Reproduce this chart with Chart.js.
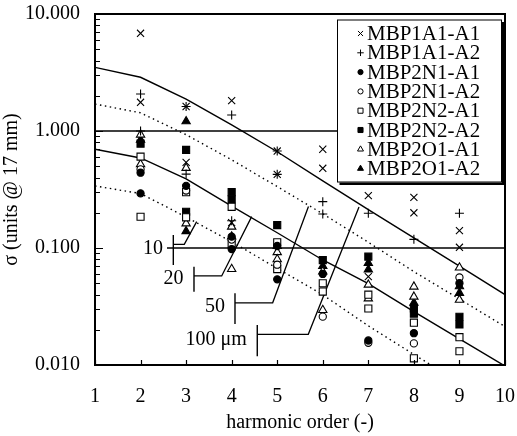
<!DOCTYPE html>
<html><head><meta charset="utf-8">
<script src="https://cdn.jsdelivr.net/npm/chart.js@4/dist/chart.umd.min.js"></script>
<style>html,body{margin:0;padding:0;background:#fff}canvas{display:block}</style>
</head><body>
<canvas id="c" width="517" height="436"></canvas>
<script>
// ---------- data ----------
const harmonicOrders = [1,2,3,4,5,6,7,8,9,10];
const yDecadeTicks = [0.01, 0.1, 1, 10];
const xTickLabels = ['1','2','3','4','5','6','7','8','9','10'];

const seriesNames = ['MBP1A1-A1','MBP1A1-A2','MBP2N1-A1','MBP2N1-A2','MBP2N2-A1','MBP2N2-A2','MBP2O1-A1','MBP2O1-A2'];

const MBP1A1_A1_x = [2,2,3,3,4,4,5,5,6,6,7,7,8,8,9,9];
const MBP1A1_A1_y = [6.84,1.76,1.62,0.54,1.82,0.165,0.674,0.426,0.698,0.48,0.28,0.057,0.271,0.200,0.1406,0.1014];

const MBP1A1_A2_x = [2,2,3,3,4,4,5,5,6,6,7,8,9];
const MBP1A1_A2_y = [2.07,1.0,1.62,0.428,1.37,0.171,0.674,0.426,0.249,0.195,0.198,0.1186,0.198];

const MBP2N1_A1_x = [2,2,3,4,4,5,5,6,7,8,9];
const MBP2N1_A1_y = [0.293,0.44,0.34,0.125,0.098,0.104,0.054,0.06,0.0162,0.0187,0.050];

const MBP2N1_A2_x = [2,3,4,5,6,7,8,9];
const MBP2N1_A2_y = [0.47,0.31,0.118,0.072,0.0259,0.0155,0.0153,0.056];

const MBP2N2_A1_x = [2,2,3,3,4,4,5,5,6,6,7,7,8,8,9,9];
const MBP2N2_A1_y = [0.604,0.185,0.30,0.183,0.225,0.108,0.112,0.066,0.0499,0.0424,0.0399,0.0304,0.023,0.0114,0.0173,0.0131];

const MBP2N2_A2_x = [2,3,3,4,4,5,6,7,8,8,9,9];
const MBP2N2_A2_y = [0.78,0.689,0.204,0.30,0.26,0.157,0.0789,0.0843,0.0304,0.0275,0.0258,0.0222];

const MBP2O1_A1_x = [2,2,3,3,4,4,5,5,6,6,7,7,8,8,9,9];
const MBP2O1_A1_y = [0.93,0.52,0.483,0.162,0.152,0.066,0.092,0.080,0.0628,0.0295,0.0485,0.037,0.0467,0.0383,0.068,0.036];

const MBP2O1_A2_x = [2,3,3,4,5,6,7,7,8,9,9];
const MBP2O1_A2_y = [0.84,1.21,0.139,0.125,0.104,0.07,0.0744,0.0654,0.034,0.047,0.0413];

// model curves at each harmonic order
const upperSolid  = [3.5, 2.88, 1.87, 1.13, 0.665, 0.375, 0.213, 0.122, 0.070, 0.040];
const upperDotted = [1.70, 1.43, 0.93, 0.567, 0.335, 0.196, 0.112, 0.0628, 0.0366, 0.0213];
const lowerSolid  = [0.698, 0.588, 0.389, 0.228, 0.135, 0.079, 0.0495, 0.0286, 0.0167, 0.0098];
const lowerDotted = [0.339, 0.292, 0.184, 0.113, 0.067, 0.0398, 0.0216, 0.0123, 0.0071, 0.0042];

// horizontal reference levels
const refLevels = [1.0, 0.1];
const refStartX = [1, 2.58];
const refEndX = [10, 10];

// resolution call-outs
const leaderLabels    = ['10', '20', '50', '100 \u03BCm'];
const leaderBarX      = [2.719, 3.173, 4.073, 4.562];
const leaderBarTop    = [0.129, 0.0692, 0.0410, 0.0220];
const leaderBarBottom = [0.0716, 0.0423, 0.0224, 0.0119];
const leaderLevel     = [0.1076, 0.0577, 0.0340, 0.0183];
const leaderKneeX     = [2.96, 3.781, 4.900, 5.682];
const leaderTipX      = [3.232, 4.439, 5.686, 6.795];
const leaderTipY      = [0.168, 0.1854, 0.2265, 0.224];
const leaderTextX     = [2.49, 2.94, 3.853, 4.33];
const leaderTextY     = [0.098, 0.0543, 0.0315, 0.0164];

// ---------- build ----------
const FONT = 'Liberation Serif, Times New Roman, serif';
Chart.defaults.font.family = FONT;
Chart.defaults.font.size = 20;
Chart.defaults.color = '#000';

const pairs = (xs, ys) => xs.map((x, i) => ({x, y: ys[i]}));

const markerStyles = [
  {pointStyle:'crossRot', radius:5, fill:'#000'},
  {pointStyle:'cross', radius:4.5, fill:'#000'},
  {pointStyle:'circle', radius:3.6, fill:'#000'},
  {pointStyle:'circle', radius:3.6, fill:'#fff'},
  {pointStyle:'rect', radius:5, fill:'#fff'},
  {pointStyle:'rect', radius:5, fill:'#000'},
  {pointStyle:'triangle', radius:4.8, fill:'#fff'},
  {pointStyle:'triangle', radius:4.8, fill:'#000'}
];
const seriesX = [MBP1A1_A1_x, MBP1A1_A2_x, MBP2N1_A1_x, MBP2N1_A2_x, MBP2N2_A1_x, MBP2N2_A2_x, MBP2O1_A1_x, MBP2O1_A2_x];
const seriesY = [MBP1A1_A1_y, MBP1A1_A2_y, MBP2N1_A1_y, MBP2N1_A2_y, MBP2N2_A1_y, MBP2N2_A2_y, MBP2O1_A1_y, MBP2O1_A2_y];

const datasets = [];
seriesNames.forEach((name, i) => {
  const m = markerStyles[i];
  datasets.push({
    label: name, data: pairs(seriesX[i], seriesY[i]), showLine: false,
    pointStyle: m.pointStyle, pointRadius: m.radius, pointBackgroundColor: m.fill,
    pointBorderColor: '#000', pointBorderWidth: 1.1, pointHoverRadius: m.radius
  });
});
const lineDs = (data, dash, width) => ({
  label: '', data, showLine: true, pointRadius: 0, borderColor: '#000',
  borderWidth: width, borderDash: dash, fill: false, tension: 0
});
datasets.push(lineDs(pairs(harmonicOrders, upperSolid), [], 1.4));
datasets.push(lineDs(pairs(harmonicOrders, upperDotted), [1.5, 3.5], 1.4));
datasets.push(lineDs(pairs(harmonicOrders, lowerSolid), [], 1.4));
datasets.push(lineDs(pairs(harmonicOrders, lowerDotted), [1.5, 3.5], 1.4));
refLevels.forEach((lv, i) => datasets.push(lineDs([{x: refStartX[i], y: lv}, {x: refEndX[i], y: lv}], [], 1.5)));
leaderLabels.forEach((_, i) => {
  datasets.push(lineDs([{x: leaderBarX[i], y: leaderBarTop[i]}, {x: leaderBarX[i], y: leaderBarBottom[i]}], [], 1.4));
  datasets.push(lineDs([{x: leaderBarX[i], y: leaderLevel[i]}, {x: leaderKneeX[i], y: leaderLevel[i]}, {x: leaderTipX[i], y: leaderTipY[i]}], [], 1.3));
});

const decoPlugin = {
  id: 'deco',
  afterDatasetsDraw(chart) {
    const {ctx, chartArea: a, scales: {x, y}} = chart;
    ctx.save();
    // call-out labels
    ctx.fillStyle = '#000';
    ctx.font = '20px ' + FONT;
    ctx.textAlign = 'right';
    ctx.textBaseline = 'middle';
    leaderLabels.forEach((t, i) => {
      ctx.fillText(t, x.getPixelForValue(leaderTextX[i]), y.getPixelForValue(leaderTextY[i]));
    });
    // inward ticks
    ctx.strokeStyle = '#000';
    ctx.lineWidth = 1.2;
    ctx.beginPath();
    for (let d = 0; d < yDecadeTicks.length - 1; d++) {
      for (let k = 1; k <= 9; k++) {
        const v = yDecadeTicks[d] * k;
        const py = Math.round(y.getPixelForValue(v)) + 0.5;
        const len = k === 1 ? 8 : 5;
        ctx.moveTo(a.left, py); ctx.lineTo(a.left + len, py);
      }
    }
    harmonicOrders.forEach(h => {
      const px = Math.round(x.getPixelForValue(h)) + 0.5;
      ctx.moveTo(px, a.bottom); ctx.lineTo(px, a.bottom - 5);
    });
    ctx.stroke();
    // frame
    ctx.lineWidth = 2;
    ctx.strokeRect(a.left, a.top, a.right - a.left, a.bottom - a.top);
    // legend
    const bx = a.right - 168, by = a.top + 5.5, bw = 165, bh = 163;
    ctx.fillStyle = '#000';
    ctx.fillRect(bx + 2.5, by + 2.5, bw, bh);
    ctx.fillStyle = '#fff';
    ctx.fillRect(bx, by, bw, bh);
    ctx.lineWidth = 1;
    ctx.strokeRect(bx + 0.5, by + 0.5, bw - 1, bh - 1);
    ctx.textAlign = 'left';
    ctx.font = '21px ' + FONT;
    seriesNames.forEach((name, i) => {
      const ry = by + 14 + i * 19.3;
      const m = markerStyles[i];
      ctx.fillStyle = m.fill;
      ctx.strokeStyle = '#000';
      ctx.lineWidth = 1;
      Chart.helpers.drawPoint(ctx, {pointStyle: m.pointStyle, radius: m.radius * 0.72, rotation: 0, borderWidth: 1}, bx + 23.5, ry);
      ctx.fillStyle = '#000';
      ctx.fillText(name, bx + 30, ry + 1);
    });
    ctx.restore();
  }
};

new Chart(document.getElementById('c'), {
  type: 'scatter',
  data: {datasets},
  options: {
    responsive: false, animation: false, events: [],
    layout: {padding: {top: 14, right: 12, left: 0, bottom: 0}},
    plugins: {legend: {display: false}, tooltip: {enabled: false}},
    scales: {
      x: {
        type: 'linear', min: 1, max: 10,
        afterFit(s) { s.height = 71; s.paddingLeft = 0; s.paddingRight = 0; },
        grid: {display: false, drawTicks: false}, border: {display: false},
        ticks: {stepSize: 1, padding: 20, autoSkip: false,
          callback: (v) => xTickLabels[harmonicOrders.indexOf(v)] ?? ''},
        title: {display: true, text: 'harmonic order (-)', padding: {top: 0, bottom: 1}}
      },
      y: {
        type: 'logarithmic', min: 0.01, max: 10,
        afterFit(s) { s.width = 95; s.paddingTop = 0; s.paddingBottom = 0; },
        afterBuildTicks(s) { s.ticks = yDecadeTicks.map(v => ({value: v})); },
        grid: {display: false, drawTicks: false}, border: {display: false},
        ticks: {autoSkip: false, padding: 15, callback: (v) => Number(v).toFixed(3)},
        title: {display: true, text: '\u03C3 (units @ 17 mm)', padding: {top: 0, bottom: 0}}
      }
    }
  },
  plugins: [decoPlugin]
});
</script>
</body></html>
